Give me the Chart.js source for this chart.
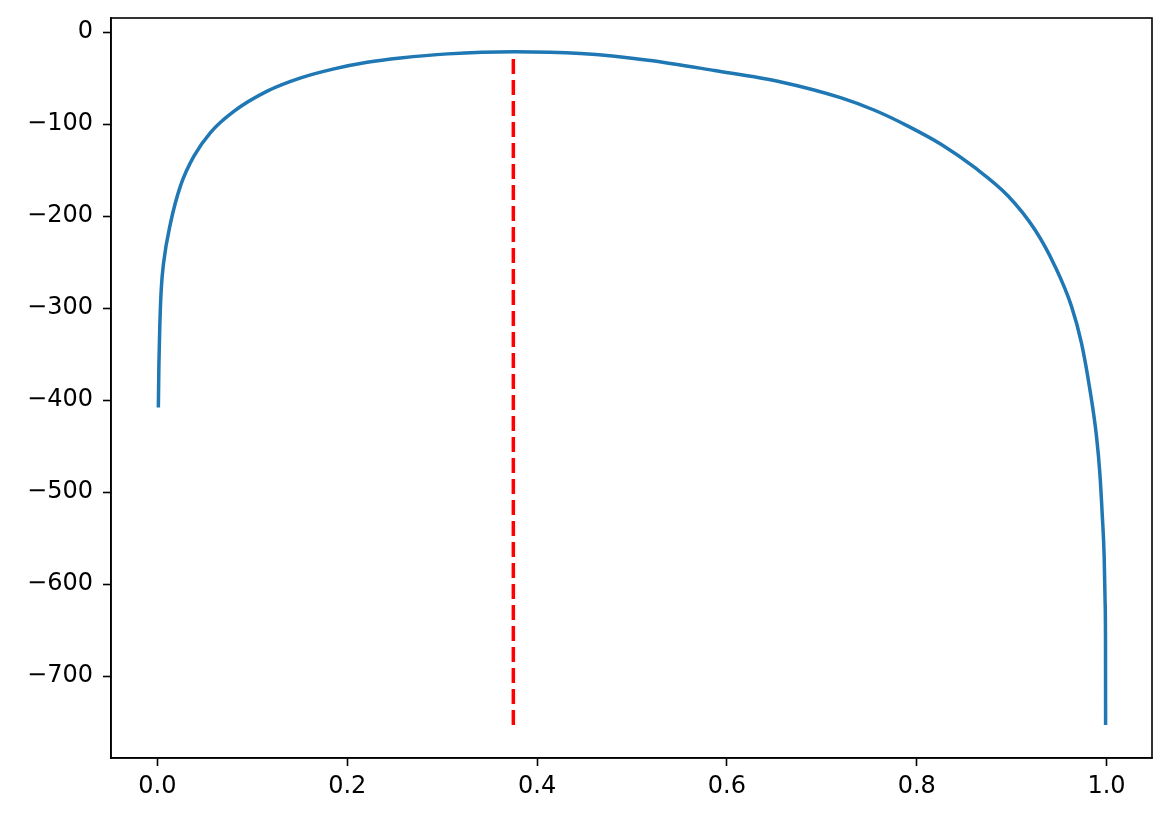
<!DOCTYPE html>
<html>
<head>
<meta charset="utf-8">
<script src="https://cdn.jsdelivr.net/npm/chart.js@4/dist/chart.umd.min.js"></script>
<style>
  html, body { margin: 0; padding: 0; background: #fff; }
  #wrap { width: 1171px; height: 822px; position: relative; }
</style>
</head>
<body>
<div id="wrap"><canvas id="llChart" width="1171" height="822"></canvas></div>
<script>
// curve (x = p, y = value)
const curveX = [0.001, 0.0016, 0.0025, 0.004, 0.0066, 0.0137, 0.0243, 0.0383, 0.0559, 0.0805,
  0.1157, 0.151, 0.186, 0.221, 0.256, 0.306, 0.376, 0.446, 0.517, 0.587,
  0.657, 0.7205, 0.7556, 0.7908, 0.826, 0.861, 0.8963, 0.9244, 0.9455, 0.9631,
  0.9736, 0.9824, 0.9895, 0.993, 0.9955, 0.9975, 0.9985, 0.9989, 0.999];
const curveY = [-408, -360, -320, -280, -250, -208, -167, -135, -109, -86,
  -64, -49.6, -39.8, -32.6, -27.9, -23.5, -21.3, -23.2, -30.4, -41.6,
  -54, -71.3, -84.8, -102, -122, -147, -178, -214.5, -254, -298,
  -338, -388, -440, -480, -525, -570, -620, -660, -753];

// red dashed marker
const markX = [0.375, 0.375];
const markY = [-753, -21.3];

const xTicks = [0.0, 0.2, 0.4, 0.6, 0.8, 1.0];
const yTicks = [0, -100, -200, -300, -400, -500, -600, -700];

const font = { family: 'DejaVu Sans', size: 24 };

const frame = {
  id: 'frame',
  afterDraw(chart) {
    const { ctx, chartArea: a } = chart;
    ctx.save();
    ctx.strokeStyle = '#000';
    ctx.lineWidth = 1.6;
    ctx.strokeRect(a.left, a.top, a.right - a.left, a.bottom - a.top);
    ctx.restore();
  }
};

new Chart(document.getElementById('llChart').getContext('2d'), {
  type: 'scatter',
  data: {
    datasets: [{
      data: curveX.map((x, i) => ({ x, y: curveY[i] })),
      showLine: true,
      borderColor: '#1f77b4',
      borderWidth: 3.5,
      pointRadius: 0,
      cubicInterpolationMode: 'monotone'
    }, {
      data: markX.map((x, i) => ({ x, y: markY[i] })),
      showLine: true,
      borderColor: '#ff0000',
      borderWidth: 3.5,
      borderDash: [15, 6],
      pointRadius: 0
    }]
  },
  options: {
    responsive: false,
    animation: false,
    layout: { padding: { top: 18, right: 19, left: 0, bottom: 0 } },
    plugins: { legend: { display: false }, tooltip: { enabled: false } },
    scales: {
      x: {
        type: 'linear',
        min: -0.0489,
        max: 1.0479,
        afterBuildTicks: s => { s.ticks = xTicks.map(v => ({ value: v })); },
        afterFit: s => { s.height = 64; s.paddingLeft = 0; s.paddingRight = 0; },
        grid: { drawOnChartArea: false, drawTicks: true, tickLength: 8, tickColor: '#000', tickWidth: 1.6 },
        border: { display: true, color: '#000', width: 1.6 },
        ticks: { color: '#000', font, padding: 6, maxRotation: 0, callback: v => v.toFixed(1) }
      },
      y: {
        min: -789,
        max: 15.5,
        afterBuildTicks: s => { s.ticks = yTicks.map(v => ({ value: v })); },
        afterFit: s => { s.width = 111; s.paddingTop = 0; s.paddingBottom = 0; },
        grid: { drawOnChartArea: false, drawTicks: true, tickLength: 8, tickColor: '#000', tickWidth: 1.6 },
        border: { display: true, color: '#000', width: 1.6 },
        ticks: { color: '#000', font, padding: 10, callback: v => String(v).replace('-', '\u2212') }
      }
    }
  },
  plugins: [frame]
});
</script>
</body>
</html>
